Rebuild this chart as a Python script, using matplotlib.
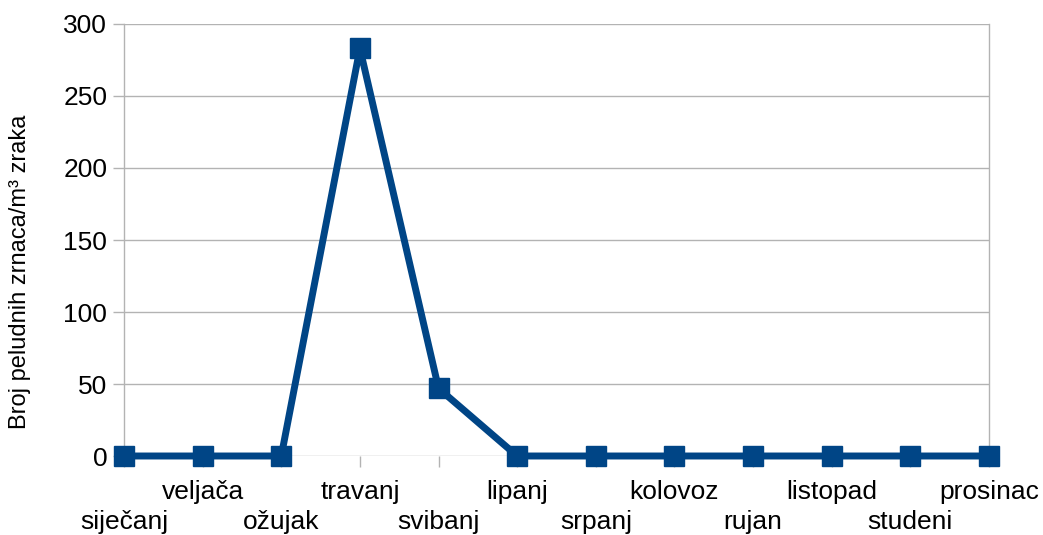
import matplotlib.pyplot as plt

plt.rcParams['font.family'] = ['Liberation Sans', 'DejaVu Sans']

months = ["siječanj", "veljača", "ožujak", "travanj", "svibanj", "lipanj",
          "srpanj", "kolovoz", "rujan", "listopad", "studeni", "prosinac"]
pollen = [0, 0, 0, 283, 47, 0, 0, 0, 0, 0, 0, 0]
yticks = [0, 50, 100, 150, 200, 250, 300]

BLUE = "#004586"
GRID = "#b3b3b3"

fig = plt.figure(figsize=(10.43, 5.35), dpi=100)
ax = fig.add_axes([124 / 1043, 1 - 456 / 535, 865 / 1043, 432 / 535])

x = list(range(len(months)))
ax.plot(x, pollen, color=BLUE, linewidth=5, marker="s", markersize=14.5,
        clip_on=False, zorder=3)

ax.set_xlim(0, len(months) - 1)
ax.set_ylim(0, 300)
ax.set_yticks(yticks)
ax.set_xticks(x)
ax.set_xticklabels(months)
ax.grid(axis="y", color=GRID, linewidth=1)

for s in ("top", "bottom"):
    ax.spines[s].set_visible(False)
for s in ("left", "right"):
    ax.spines[s].set_color(GRID)
    ax.spines[s].set_linewidth(1)

ax.tick_params(axis="both", colors=GRID, labelcolor="black", labelsize=19,
               length=8, width=1)
ax.tick_params(axis="y", pad=4)
for i, tick in enumerate(ax.xaxis.get_major_ticks()):
    tick.set_pad(9 if i % 2 else 31)

ax.set_ylabel("Broj peludnih zrnaca/m³ zraka", fontsize=17)
ax.yaxis.set_label_coords(-0.108, 0.426)

fig.savefig("out.png", dpi=100)
